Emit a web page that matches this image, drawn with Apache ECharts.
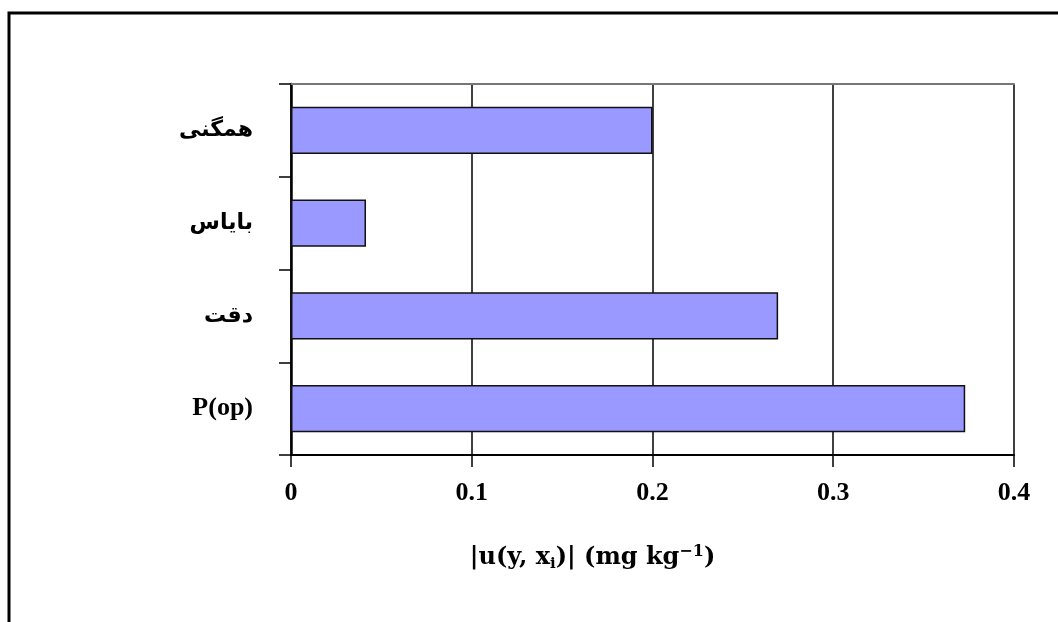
<!DOCTYPE html>
<html><head><meta charset="utf-8">
<script src="https://cdn.jsdelivr.net/npm/echarts@6/dist/echarts.min.js"></script>
<style>html,body{margin:0;padding:0;background:#fff}#c{width:1058px;height:622px}</style>
</head><body><div id="c"></div>
<script>
const categories = ['P(op)', 'دقت', 'بایاس', 'همگنی'];
const values = [0.373, 0.2695, 0.0415, 0.2];
const xTicks = [0, 0.1, 0.2, 0.3, 0.4];

const chart = echarts.init(document.getElementById('c'));
const serif = '"Liberation Serif", "DejaVu Sans", serif';
const mathFont = '"DejaVu Serif", "Liberation Serif", serif';
const arabicRe = /[\u0600-\u06FF]/;
chart.setOption({
  animation: false,
  backgroundColor: '#fff',
  grid: {left: 291, right: 44, top: 84, bottom: 167},
  graphic: [{
    type: 'rect', shape: {x: 9, y: 13, width: 1200, height: 800},
    style: {fill: 'none', stroke: '#000', lineWidth: 3}, silent: true
  }],
  xAxis: [{
    type: 'value', min: xTicks[0], max: xTicks[xTicks.length - 1], interval: 0.1,
    axisLine: {show: true, lineStyle: {color: '#000', width: 2}},
    axisTick: {show: true, length: 12, lineStyle: {color: '#000', width: 1.5}},
    axisLabel: {color: '#000', fontSize: 26, fontWeight: 'bold', fontFamily: serif, margin: 25,
      formatter: v => (v === 0 ? '0' : v.toFixed(1))},
    splitLine: {show: true, lineStyle: {color: '#000', width: 1.5}},
    name: '{a||u(y, x}{sub|i}{a|)| (mg kg}{sup|−1}{a|)}',
    nameLocation: 'middle', nameGap: 86,
    nameTextStyle: {
      padding: [0, 120, 0, 0],
      rich: {
        a: {fontSize: 24, fontWeight: 'bold', fontFamily: mathFont, color: '#000', lineHeight: 34, verticalAlign: 'middle'},
        sub: {fontSize: 15, fontWeight: 'bold', fontFamily: mathFont, color: '#000', lineHeight: 34, verticalAlign: 'bottom', padding: [0, 0, 3, 0]},
        sup: {fontSize: 16, fontWeight: 'bold', fontFamily: mathFont, color: '#000', lineHeight: 34, verticalAlign: 'top', padding: [3, 0, 0, 0]}
      }
    }
  }, {
    type: 'value', position: 'top', min: 0, max: 0.4,
    axisLine: {show: true, lineStyle: {color: '#777', width: 2}},
    axisTick: {show: false}, axisLabel: {show: false}, splitLine: {show: false}
  }],
  yAxis: {
    type: 'category', data: categories,
    axisLine: {show: true, lineStyle: {color: '#000', width: 2.5}},
    axisTick: {show: true, length: 12, lineStyle: {color: '#000', width: 1.5}},
    axisLabel: {color: '#000', fontSize: 26, fontWeight: 'bold', fontFamily: serif, margin: 38,
      formatter: v => (arabicRe.test(v) ? '{ar|' + v + '}' : v),
      rich: {ar: {fontSize: 22, fontWeight: 'bold', fontFamily: '"DejaVu Sans", sans-serif', color: '#000'}}},
    splitLine: {show: false}
  },
  series: [{
    type: 'bar', data: values, barCategoryGap: '49%', xAxisIndex: 0,
    itemStyle: {color: '#9999FF', borderColor: '#111', borderWidth: 1.5}
  }]
});
</script></body></html>
